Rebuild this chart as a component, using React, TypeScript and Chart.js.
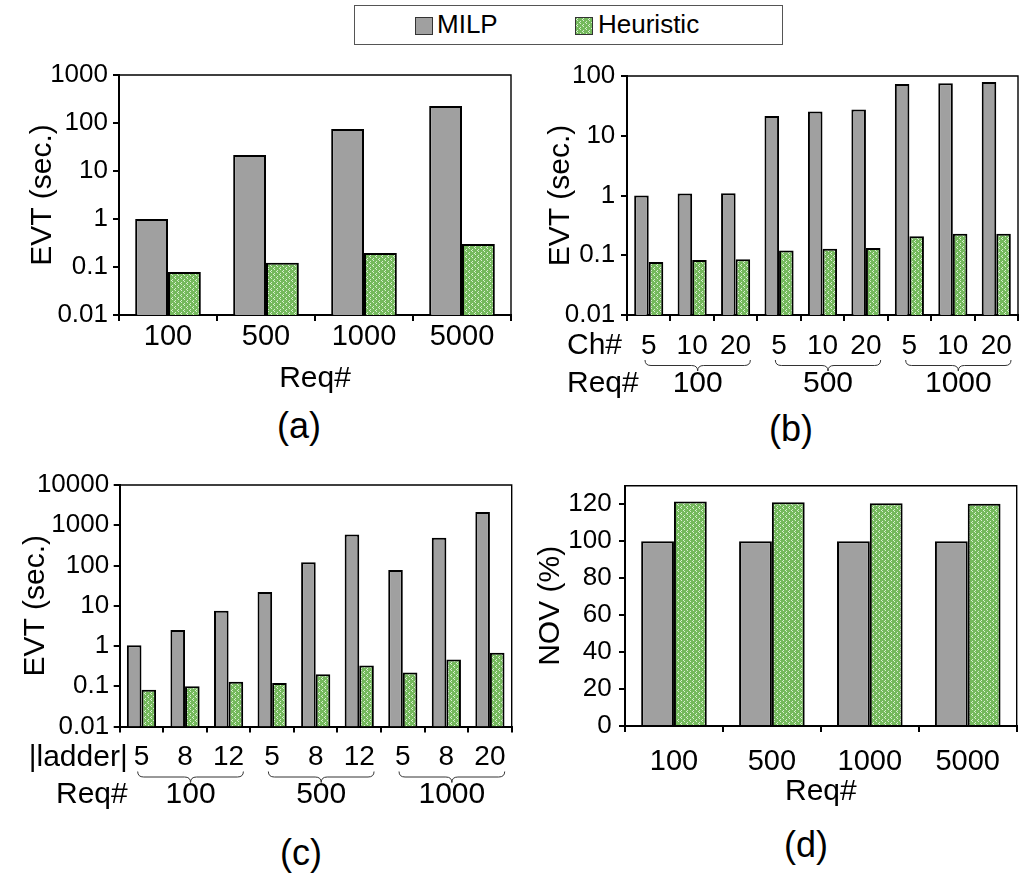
import React, { useEffect, useRef } from 'react';
import { Chart, registerables } from 'chart.js';

Chart.register(...registerables);

const FONT = '"Liberation Sans", Arial, Helvetica, sans-serif';
const GRAY = '#a0a0a0';
const GREEN = '#74b95c';

// ---------- Data ----------
// Panel (a)
const reqCatsA = ['100', '500', '1000', '5000'];
const milpA = [1.0, 21.5, 75, 225];
const heurA = [0.079, 0.123, 0.195, 0.3];
const evtTicksA = [0.01, 0.1, 1, 10, 100, 1000];

// Panel (b)
const chLabelsB = ['5', '10', '20', '5', '10', '20', '5', '10', '20'];
const reqGroupsB = ['100', '500', '1000'];
const milpB = [1.0, 1.08, 1.09, 21.5, 25.4, 27.5, 73.6, 75.5, 79.4];
const heurB = [0.077, 0.083, 0.086, 0.12, 0.129, 0.132, 0.207, 0.23, 0.23];
const evtTicksB = [0.01, 0.1, 1, 10, 100];

// Panel (c)
const ladderLabelsC = ['5', '8', '12', '5', '8', '12', '5', '8', '20'];
const reqGroupsC = ['100', '500', '1000'];
const milpC = [1.05, 2.5, 7.5, 22, 120, 590, 77, 490, 2130];
const heurC = [0.082, 0.1, 0.13, 0.12, 0.2, 0.33, 0.22, 0.46, 0.68];
const evtTicksC = [0.01, 0.1, 1, 10, 100, 1000, 10000];

// Panel (d)
const reqCatsD = ['100', '500', '1000', '5000'];
const milpD = [100, 100, 100, 100];
const heurD = [121.4, 121.0, 120.5, 120.2];
const novTicksD = [0, 20, 40, 60, 80, 100, 120];

// ---------- Helpers ----------
function makePatternCanvas(): HTMLCanvasElement {
  const c = document.createElement('canvas');
  c.width = 6;
  c.height = 6;
  const g = c.getContext('2d')!;
  g.fillStyle = GREEN;
  g.fillRect(0, 0, 6, 6);
  g.fillStyle = 'rgba(236,248,230,0.85)';
  [[1, 0], [0, 1], [1, 2], [4, 3], [3, 4], [4, 5]].forEach(([x, y]) => g.fillRect(x, y, 1, 1));
  return c;
}

function makePattern(ctx: CanvasRenderingContext2D): CanvasPattern | string {
  const p = ctx.createPattern(makePatternCanvas(), 'repeat');
  return p || GREEN;
}

const framePlugin = {
  id: 'frame',
  afterDraw(chart: any) {
    const { ctx, chartArea } = chart;
    const { left, top, right, bottom } = chartArea;
    ctx.save();
    ctx.strokeStyle = '#000';
    ctx.lineWidth = 1.4;
    ctx.beginPath();
    ctx.moveTo(left, top);
    ctx.lineTo(right, top);
    ctx.lineTo(right, bottom);
    ctx.stroke();
    ctx.restore();
  },
};

function drawBrace(ctx: CanvasRenderingContext2D, x1: number, x2: number, y0: number, h: number) {
  const mid = (x1 + x2) / 2;
  const ym = y0 + h / 2;
  const r = 6;
  ctx.beginPath();
  ctx.moveTo(x1, y0);
  ctx.quadraticCurveTo(x1, ym, x1 + r, ym);
  ctx.lineTo(mid - r, ym);
  ctx.quadraticCurveTo(mid, ym, mid, y0 + h);
  ctx.quadraticCurveTo(mid, ym, mid + r, ym);
  ctx.lineTo(x2 - r, ym);
  ctx.quadraticCurveTo(x2, ym, x2, y0);
  ctx.stroke();
}

function groupPlugin(rowLabel: string, groups: string[], labelOffset: number, align: CanvasTextAlign, rowY: number, groupY: number) {
  return {
    id: 'groups',
    afterDraw(chart: any) {
      const { ctx, chartArea } = chart;
      const xs = chart.scales.x;
      const n = chart.data.labels.length;
      const per = n / groups.length;
      const step = xs.getPixelForValue(1) - xs.getPixelForValue(0);
      ctx.save();
      ctx.fillStyle = '#000';
      ctx.font = `30px ${FONT}`;
      ctx.textBaseline = 'middle';
      ctx.textAlign = align;
      const lx = chartArea.left + labelOffset;
      ctx.fillText(rowLabel, lx, chartArea.bottom + rowY);
      ctx.fillText('Req#', lx, chartArea.bottom + groupY);
      ctx.strokeStyle = '#333';
      ctx.lineWidth = 1;
      groups.forEach((g, i) => {
        const x1 = xs.getPixelForValue(i * per) - step / 2 + 18;
        const x2 = xs.getPixelForValue(i * per + per - 1) + step / 2 - 7;
        drawBrace(ctx, x1, x2, chartArea.bottom + 45, 11);
        ctx.textAlign = 'center';
        ctx.fillText(g, (x1 + x2) / 2, chartArea.bottom + groupY);
      });
      ctx.restore();
    },
  };
}

type PanelCfg = {
  labels: string[];
  milp: number[];
  heur: number[];
  yType: 'logarithmic' | 'linear';
  yMin: number;
  yMax: number;
  yTicks: number[];
  yTitle: string;
  yTitlePad: number;
  yWidth: number;
  yTickPad: number;
  xHeight: number;
  xTickPad: number;
  xTickSize: number;
  xTitle?: string;
  xTitlePad?: number;
  padTop: number;
  padRight: number;
  extra?: any[];
};

function buildConfig(ctx: CanvasRenderingContext2D, c: PanelCfg): any {
  return {
    type: 'bar',
    data: {
      labels: c.labels,
      datasets: [
        {
          label: 'MILP',
          data: c.milp,
          backgroundColor: GRAY,
          borderColor: '#000',
          borderWidth: 2,
          categoryPercentage: 0.67,
          barPercentage: 1.0,
        },
        {
          label: 'Heuristic',
          data: c.heur,
          backgroundColor: makePattern(ctx),
          borderColor: '#000',
          borderWidth: 2,
          categoryPercentage: 0.67,
          barPercentage: 1.0,
        },
      ],
    },
    options: {
      responsive: false,
      animation: false,
      devicePixelRatio: 1,
      layout: { padding: { top: c.padTop, right: c.padRight, left: 0, bottom: 0 } },
      plugins: { legend: { display: false }, tooltip: { enabled: false } },
      scales: {
        x: {
          type: 'category',
          afterFit: (s: any) => {
            s.height = c.xHeight;
            s.paddingLeft = 0;
            s.paddingRight = 0;
          },
          ticks: {
            font: { family: FONT, size: c.xTickSize },
            color: '#000',
            padding: c.xTickPad,
            autoSkip: false,
            maxRotation: 0,
            minRotation: 0,
          },
          grid: { offset: true, drawOnChartArea: false, drawTicks: true, tickLength: 6, color: '#000', lineWidth: 2 },
          border: { display: true, color: '#000', width: 2 },
          title: c.xTitle
            ? {
                display: true,
                text: c.xTitle,
                color: '#000',
                font: { family: FONT, size: 30 },
                padding: { top: 0, bottom: c.xTitlePad || 0 },
              }
            : { display: false },
        },
        y: {
          type: c.yType,
          min: c.yMin,
          max: c.yMax,
          afterBuildTicks: (s: any) => {
            s.ticks = c.yTicks.map((v) => ({ value: v }));
          },
          afterFit: (s: any) => {
            s.width = c.yWidth;
            s.paddingTop = 0;
            s.paddingBottom = 0;
          },
          ticks: {
            font: { family: FONT, size: 26 },
            color: '#000',
            padding: c.yTickPad,
            autoSkip: false,
            callback: (v: any) => String(v),
          },
          grid: { drawOnChartArea: false, drawTicks: true, tickLength: 6, color: '#000', lineWidth: 2 },
          border: { display: true, color: '#000', width: 2 },
          title: {
            display: true,
            text: c.yTitle,
            color: '#000',
            font: { family: FONT, size: 30 },
            padding: { top: c.yTitlePad, bottom: 0 },
          },
        },
      },
    },
    plugins: [framePlugin, ...(c.extra || [])],
  };
}

function ChartPanel({ left, top, width, height, cfg }: { left: number; top: number; width: number; height: number; cfg: PanelCfg }) {
  const ref = useRef<HTMLCanvasElement>(null);
  useEffect(() => {
    const canvas = ref.current!;
    const ctx = canvas.getContext('2d')!;
    const chart = new Chart(canvas, buildConfig(ctx, cfg));
    return () => chart.destroy();
  }, []);
  return (
    <div style={{ position: 'absolute', left, top, width, height }}>
      <canvas ref={ref} width={width} height={height} style={{ display: 'block', width, height }} />
    </div>
  );
}

function PatternSwatch() {
  const ref = useRef<HTMLCanvasElement>(null);
  useEffect(() => {
    const cv = ref.current!;
    const g = cv.getContext('2d')!;
    g.fillStyle = makePattern(g) as any;
    g.fillRect(0, 0, 16, 16);
  }, []);
  return <canvas ref={ref} width={16} height={16} style={{ display: 'block', width: 16, height: 16 }} />;
}

function Legend() {
  const sw: React.CSSProperties = { position: 'absolute', top: 11, width: 16, height: 16, border: '1px solid #333', boxSizing: 'content-box' };
  const tx: React.CSSProperties = { position: 'absolute', top: 5, fontSize: 26, lineHeight: '26px', fontFamily: FONT, color: '#000', whiteSpace: 'nowrap' };
  return (
    <div style={{ position: 'absolute', left: 354, top: 5, width: 427, height: 38, border: '1.3px solid #555', background: '#fff' }}>
      <div style={{ ...sw, left: 60, background: GRAY }} />
      <div style={{ ...tx, left: 82 }}>MILP</div>
      <div style={{ ...sw, left: 220 }}>
        <PatternSwatch />
      </div>
      <div style={{ ...tx, left: 243 }}>Heuristic</div>
    </div>
  );
}

function Caption({ text, cx, top }: { text: string; cx: number; top: number }) {
  return (
    <div style={{ position: 'absolute', left: cx - 60, top, width: 120, textAlign: 'center', fontFamily: FONT, fontSize: 36, lineHeight: '36px', color: '#000' }}>
      {text}
    </div>
  );
}

const cfgA: PanelCfg = {
  labels: reqCatsA,
  milp: milpA,
  heur: heurA,
  yType: 'logarithmic',
  yMin: 0.01,
  yMax: 1000,
  yTicks: evtTicksA,
  yTitle: 'EVT (sec.)',
  yTitlePad: 24.5,
  yWidth: 119,
  yTickPad: 5,
  xHeight: 85,
  xTickPad: -1.7,
  xTickSize: 29,
  xTitle: 'Req#',
  xTitlePad: 3.3,
  padTop: 15,
  padRight: 19,
};

const cfgB: PanelCfg = {
  labels: chLabelsB,
  milp: milpB,
  heur: heurB,
  yType: 'logarithmic',
  yMin: 0.01,
  yMax: 100,
  yTicks: evtTicksB,
  yTitle: 'EVT (sec.)',
  yTitlePad: 13,
  yWidth: 97,
  yTickPad: 5.7,
  xHeight: 85,
  xTickPad: 8.2,
  xTickSize: 28,
  padTop: 16,
  padRight: 3,
  extra: [groupPlugin('Ch#', reqGroupsB, -60, 'left', 31, 69)],
};

const cfgC: PanelCfg = {
  labels: ladderLabelsC,
  milp: milpC,
  heur: heurC,
  yType: 'logarithmic',
  yMin: 0.01,
  yMax: 10000,
  yTicks: evtTicksC,
  yTitle: 'EVT (sec.)',
  yTitlePad: 18,
  yWidth: 119.7,
  yTickPad: 4.5,
  xHeight: 93.5,
  xTickPad: 8.2,
  xTickSize: 28,
  padTop: 15,
  padRight: 18.3,
  extra: [groupPlugin('|ladder|', reqGroupsC, 8, 'right', 31, 68)],
};

const cfgD: PanelCfg = {
  labels: reqCatsD,
  milp: milpD,
  heur: heurD,
  yType: 'linear',
  yMin: 0,
  yMax: 130,
  yTicks: novTicksD,
  yTitle: 'NOV (%)',
  yTitlePad: 3,
  yWidth: 95,
  yTickPad: 7.3,
  xHeight: 94,
  xTickPad: 13,
  xTickSize: 29,
  xTitle: 'Req#',
  xTitlePad: 10,
  padTop: 15.7,
  padRight: 4.3,
};

export default function App() {
  return (
    <div style={{ position: 'absolute', left: 0, top: 0, width: 1021, height: 873, background: '#fff', overflow: 'hidden' }}>
      <ChartPanel left={0} top={60} width={530} height={340} cfg={cfgA} />
      <ChartPanel left={530} top={60} width={491} height={340} cfg={cfgB} />
      <ChartPanel left={0} top={470} width={530} height={350} cfg={cfgC} />
      <ChartPanel left={530} top={470} width={491} height={350} cfg={cfgD} />
      <Legend />
      <Caption text="(a)" cx={299} top={408} />
      <Caption text="(b)" cx={791} top={411} />
      <Caption text="(c)" cx={301} top={835} />
      <Caption text="(d)" cx={806} top={827} />
    </div>
  );
}
